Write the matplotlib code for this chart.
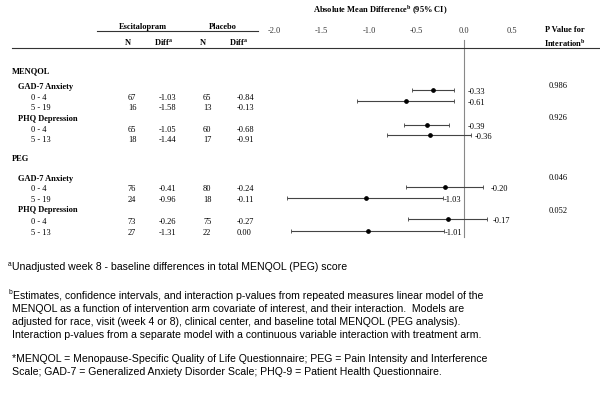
import matplotlib
matplotlib.use("Agg")
import matplotlib.pyplot as plt

# ------------------------------
# Table data
# ------------------------------
row_labels = ["MENQOL", "GAD-7 Anxiety", "0 - 4", "5 - 19", "PHQ Depression", "0 - 4", "5 - 13",
              "PEG", "GAD-7 Anxiety", "0 - 4", "5 - 19", "PHQ Depression", "0 - 4", "5 - 13"]
row_level = [0, 1, 2, 2, 1, 2, 2, 0, 1, 2, 2, 1, 2, 2]

esc_n = [67, 16, 65, 18, 76, 24, 73, 27]
esc_diff = [-1.03, -1.58, -1.05, -1.44, -0.41, -0.96, -0.26, -1.31]
plc_n = [65, 13, 60, 17, 80, 18, 75, 22]
plc_diff = [-0.84, -0.13, -0.68, -0.91, -0.24, -0.11, -0.27, 0.00]

# absolute mean difference and 95% CI
est = [-0.33, -0.61, -0.39, -0.36, -0.20, -1.03, -0.17, -1.01]
ci_lo = [-0.55, -1.13, -0.63, -0.81, -0.61, -1.86, -0.59, -1.82]
ci_hi = [-0.11, -0.11, -0.16, 0.07, 0.20, -0.22, 0.24, -0.21]

p_values = ["0.986", "0.926", "0.046", "0.052"]
axis_ticks = [-2.0, -1.5, -1.0, -0.5, 0.0, 0.5]

# ------------------------------
# Layout (pixel positions on a 600x402 canvas)
# ------------------------------
W, H = 600, 402
row_y = [71, 87, 98, 108, 119, 130, 140, 159, 179, 189, 200, 210, 222, 233]
row_x = [12, 18, 31]
forest_y = [91, 102, 126, 136, 188, 199, 220, 232]
label_x = [0.04, 0.04, 0.04, 0.11, 0.28, -0.21, 0.30, -0.20]
pval_y = [86, 118, 178, 211]
zero_px, unit_px = 464, 95

serif = "Liberation Serif"
sans = "Liberation Sans"
fs = 6.0


def px(x, y):
    return x / W, 1 - y / H


fig = plt.figure(figsize=(6, 4.02), dpi=100)

# forest axes spanning the whole canvas, x in data units, y in pixels
ax = fig.add_axes([0, 0, 1, 1])
ax.set_xlim(-zero_px / unit_px, (W - zero_px) / unit_px)
ax.set_ylim(H, 0)
ax.axis("off")

# header texts
fig.text(*px(143, 27), "Escitalopram", family=serif, fontsize=fs, weight="bold", ha="center", va="center")
fig.text(*px(223, 27), "Placebo", family=serif, fontsize=fs, weight="bold", ha="center", va="center")
for xx in [128, 203]:
    fig.text(*px(xx, 43), "N", family=serif, fontsize=fs, weight="bold", ha="center", va="center")
for xx in [163, 238]:
    fig.text(*px(xx, 43), r"Diff$^{\mathregular{a}}$", family=serif, fontsize=fs, weight="bold",
             ha="center", va="center")
fig.add_artist(plt.Line2D([97 / W, 258 / W], [1 - 32 / H] * 2, color="#333333", lw=0.8))
fig.add_artist(plt.Line2D([12 / W, 1.0], [1 - 48.5 / H] * 2, color="#333333", lw=0.8))

fig.text(*px(313, 10), r"Absolute Mean Difference$^{\mathregular{b}}$ (95% CI)", family=serif,
         fontsize=fs, weight="bold", ha="left", va="center")
fig.text(*px(565, 30), "P Value for", family=serif, fontsize=fs, weight="bold", ha="center", va="center")
fig.text(*px(565, 43), r"Interation$^{\mathregular{b}}$", family=serif, fontsize=fs, weight="bold",
         ha="center", va="center")

# row labels
for lab, lev, yy in zip(row_labels, row_level, row_y):
    fig.text(*px(row_x[lev], yy), lab, family=serif, fontsize=fs,
             weight="bold" if lev < 2 else "normal", va="center")

# table values
data_rows = [yy for lev, yy in zip(row_level, row_y) if lev == 2]
for i, yy in enumerate(data_rows):
    fig.text(*px(128, yy), str(esc_n[i]), family=serif, fontsize=fs, va="center")
    fig.text(*px(159, yy), f"{esc_diff[i]:.2f}", family=serif, fontsize=fs, va="center")
    fig.text(*px(203, yy), str(plc_n[i]), family=serif, fontsize=fs, va="center")
    fig.text(*px(237, yy), f"{plc_diff[i]:.2f}", family=serif, fontsize=fs, va="center")

for pv, yy in zip(p_values, pval_y):
    fig.text(*px(549, yy), pv, family=serif, fontsize=fs, va="center")

# axis tick labels
for t in axis_ticks:
    ax.text(t, 31, f"{t:.1f}", family=serif, fontsize=fs, ha="center", va="center", color="#333333")

# zero line
ax.plot([0, 0], [41, 238], color="#888888", lw=0.8)

# estimates with CI
for e, lo, hi, yy, lx in zip(est, ci_lo, ci_hi, forest_y, label_x):
    ax.errorbar(e, yy, xerr=[[e - lo], [hi - e]], fmt="o", color="black", ecolor="#444444",
                markersize=2.4, elinewidth=0.8, capsize=1.6, capthick=0.6)
    ax.text(lx, yy + 1, f"{e:.2f}", family=serif, fontsize=fs, va="center")

# footnotes
foot_fs = 7.55
fig.text(*px(8, 264), "a", family=sans, fontsize=4.8, va="center")
fig.text(*px(12, 267), "Unadjusted week 8 - baseline differences in total MENQOL (PEG) score",
         family=sans, fontsize=foot_fs, va="center")
fig.text(*px(9, 293), "b", family=sans, fontsize=4.8, va="center")
b_lines = [
    "Estimates, confidence intervals, and interaction p-values from repeated measures linear model of the",
    "MENQOL as a function of intervention arm covariate of interest, and their interaction.  Models are",
    "adjusted for race, visit (week 4 or 8), clinical center, and baseline total MENQOL (PEG analysis).",
    "Interaction p-values from a separate model with a continuous variable interaction with treatment arm.",
]
for i, line in enumerate(b_lines):
    fig.text(*px(13 if i == 0 else 12, 296 + 13 * i), line, family=sans, fontsize=foot_fs, va="center")
star_lines = [
    "*MENQOL = Menopause-Specific Quality of Life Questionnaire; PEG = Pain Intensity and Interference",
    "Scale; GAD-7 = Generalized Anxiety Disorder Scale; PHQ-9 = Patient Health Questionnaire.",
]
for i, line in enumerate(star_lines):
    fig.text(*px(12, 359 + 13 * i), line, family=sans, fontsize=foot_fs, va="center")

fig.savefig("out.png", dpi=100)
